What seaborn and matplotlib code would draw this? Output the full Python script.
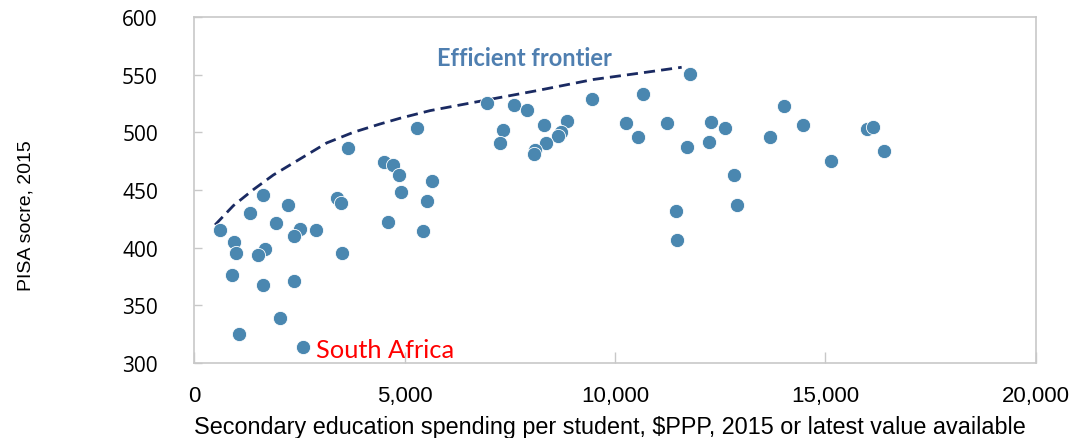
import numpy as np
import pandas as pd
import matplotlib
matplotlib.use('Agg')
import matplotlib.pyplot as plt
import seaborn as sns

# Secondary education spending per student ($PPP) vs PISA score
spending = [3665, 1647, 1323, 2240, 1948, 610, 958, 998, 1686, 1528,
            2518, 2383, 2898, 3389, 3484, 3523, 903, 1631, 2383, 2043,
            1061, 2581, 4520, 4727, 4877, 4917, 4608, 5305, 5661, 5542,
            5447, 6960, 7601, 7910, 7332, 7276, 8302, 8867, 8717, 8646,
            8369, 8100, 8083, 9447, 11774, 10658, 10261, 10546, 11228, 11717,
            12288, 12613, 12225, 12834, 12898, 11442, 11473, 14007, 14466, 13682,
            15138, 15993, 16135, 16382]
pisa = [486, 446, 430, 437, 421, 415, 405, 395, 399, 394,
        416, 410, 415, 443, 439, 395, 376, 368, 371, 339,
        325, 314, 474, 472, 463, 448, 422, 504, 458, 440,
        414, 525, 524, 519, 502, 491, 506, 510, 500, 497,
        491, 485, 481, 529, 551, 533, 508, 496, 508, 487,
        509, 504, 492, 463, 437, 432, 407, 523, 506, 496,
        475, 503, 505, 484]

# efficient frontier, points
frontier_x = [499, 934, 1409, 1884, 2518, 3152, 3784, 4418, 4893, 5606,
              6872, 8140, 9485, 10743, 11584]
frontier_y = [419.7, 436.4, 450.3, 463.0, 476.9, 490.8, 500.0, 507.2, 512.2, 518.8,
              527.5, 536.1, 545.8, 552.1, 556.4]

df = pd.DataFrame({'spending': spending, 'pisa': pisa})
frontier = pd.DataFrame({'x': frontier_x, 'y': frontier_y})

sns.set_style('white')
plt.rcParams['font.family'] = ['Liberation Sans', 'DejaVu Sans']

fig = plt.figure(figsize=(10.78, 4.39), dpi=100)
ax = fig.add_axes([0.18, 0.171, 0.781, 0.788])

sns.lineplot(data=frontier, x='x', y='y', ax=ax, sort=False, color='#1a2a62',
             linestyle=(0, (4, 2.2)), linewidth=2.0, zorder=2)
sns.scatterplot(data=df, x='spending', y='pisa', ax=ax, color='#4a87b0',
                s=105, edgecolor='white', linewidth=0.6, alpha=1, zorder=3)

ax.set_xlim(0, 20000)
ax.set_ylim(300, 600)
ax.set_xticks([0, 5000, 10000, 15000, 20000])
ax.set_xticklabels(['0', '5,000', '10,000', '15,000', '20,000'])
ax.set_yticks([300, 350, 400, 450, 500, 550, 600])

for side in ['left', 'right', 'top', 'bottom']:
    ax.spines[side].set_visible(True)
    ax.spines[side].set_color('#c8c8c8')
    ax.spines[side].set_linewidth(1.2)

ax.tick_params(axis='y', direction='in', length=6, width=1, color='#c8c8c8',
               pad=26, labelsize=15, labelcolor='black', left=True)
ax.tick_params(axis='x', direction='in', length=8, width=1, color='#c8c8c8',
               pad=16, labelsize=16, labelcolor='black', bottom=True)
for lbl in ax.get_yticklabels():
    lbl.set_fontfamily(['Open Sans', 'DejaVu Sans'])

ax.set_xlabel('Secondary education spending per student, $PPP, 2015 or latest value available',
              fontsize=16.8, color='black', va='center')
ax.xaxis.set_label_coords(0.494, -0.185)
ax.set_ylabel('PISA socre, 2015', fontsize=14, color='black', va='center')
ax.yaxis.set_label_coords(-0.2, 0.43)

ax.text(5772, 565, 'Efficient frontier', color='#4f7fb0', fontsize=17,
        fontweight='bold', family=['Lato', 'DejaVu Sans'], va='center', ha='left')
ax.text(2898, 312, 'South Africa', color='#ff0000', fontsize=18.3,
        family=['Lato', 'DejaVu Sans'], va='center', ha='left')

fig.savefig('out.png', dpi=100)
